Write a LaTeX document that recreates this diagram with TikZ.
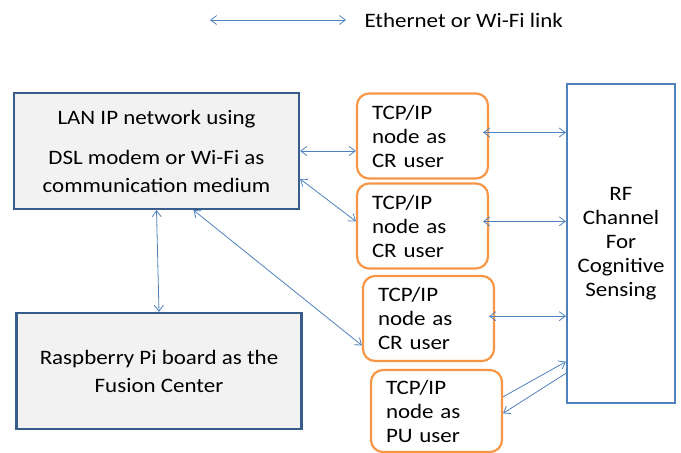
\documentclass[tikz,border=0pt]{standalone}
\usepackage{fontspec}
\setmainfont{Carlito}[FakeStretch=1.12]
\usetikzlibrary{arrows.meta}

\definecolor{lanblue}{HTML}{385D8A}
\definecolor{linkblue}{HTML}{4F81BD}
\definecolor{nodeorange}{HTML}{F79646}
\definecolor{boxgray}{HTML}{F2F2F2}

\begin{document}
\begin{tikzpicture}[x=1pt,y=-1pt,
          every node/.style={font=\fontsize{20.5}{24}\selectfont},
          link/.style={linkblue,line width=0.8pt,{Straight Barb[length=6pt,width=9pt]}-{Straight Barb[length=6pt,width=9pt]}},
          onelink/.style={linkblue,line width=0.8pt,-{Straight Barb[length=6pt,width=9pt]}},
          netbox/.style={draw=lanblue,fill=boxgray,line width=2.2pt,align=center,
            minimum width=285pt,minimum height=116pt,font=\fontsize{20.5}{28}\selectfont},
          crbox/.style={draw=nodeorange,line width=2.2pt,rounded corners=12pt,align=left,
            text width=101pt,inner xsep=15pt,minimum height=85pt},
          rfbox/.style={draw=linkblue,line width=2.2pt,align=center,
            minimum width=108pt,minimum height=319pt},
        ]

        \useasboundingbox (0,0) rectangle (681,453);

        \coordinate (legA) at (210,20);
        \coordinate (legB) at (346,20);
        \node[anchor=west] (legend) at (361,20) {Ethernet or Wi-Fi link};
        \draw[link] (legA) -- (legB);

        \node[netbox] (lan) at (156.5,151) {LAN IP network using\\[12pt]DSL modem or Wi-Fi as\\communication medium};
        \node[netbox] (rpi) at (159,371) {Raspberry Pi board as the\\Fusion Center};

        \node[crbox] (cr1) at (422.5,136) {TCP/IP\\node as\\CR user};
        \node[crbox] (cr2) at (422.5,226) {TCP/IP\\node as\\CR user};
        \node[crbox] (cr3) at (428.5,318.5) {TCP/IP\\node as\\CR user};
        \node[crbox,minimum height=82pt] (pu) at (436.5,411) {TCP/IP\\node as\\PU user};

        \node[rfbox] (rf) at (621,243.5) {RF\\Channel\\For\\Cognitive\\Sensing};

        \draw[link] (lan.east) -- (lan.east -| cr1.west);
        \draw[link] (lan.-11) -- (cr2.176);
        \draw[link] (lan.south) -- (rpi.north);
        \draw[link] (lan.-58) -- (cr3.202);

        \draw[link] ([xshift=-6pt]cr1.3) -- (cr1.3 -| rf.west);
        \draw[link] ([xshift=-6pt]cr2.4) -- (cr2.4 -| rf.west);
        \draw[link] ([xshift=-6pt]cr3.2) -- (cr3.2 -| rf.west);

        \draw[onelink] (pu.12) -- (rf.245);
        \draw[onelink] (rf.247) -- (pu.-2);

      \end{tikzpicture}
\end{document}
